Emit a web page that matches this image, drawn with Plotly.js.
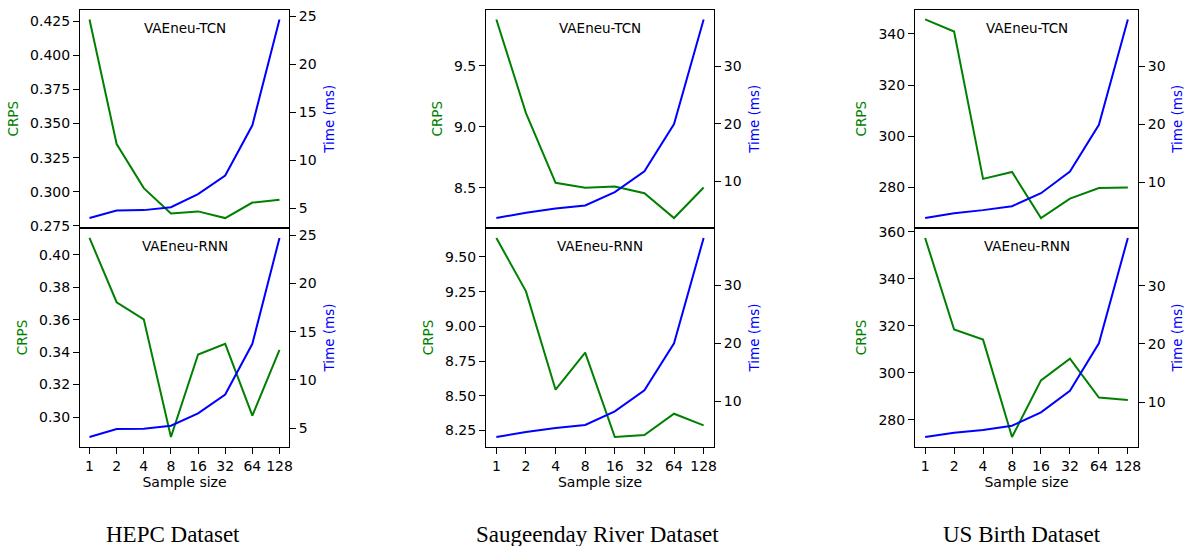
<!DOCTYPE html>
<html>
<head>
<meta charset="utf-8">
<script src="https://cdn.plot.ly/plotly-3.0.1.min.js"></script>
<style>html,body{margin:0;padding:0;background:#fff;}#chart{width:1185px;height:546px;}</style>
</head>
<body>
<div id="chart"></div>
<script>
const sampleSizes = ['1','2','4','8','16','32','64','128'];

const hepcTcnCrps = [0.4265,0.335,0.3026,0.2840,0.2855,0.2806,0.2920,0.2940];
const hepcTcnTime = [3.96,4.75,4.79,5.10,6.46,8.40,13.65,24.70];
const hepcRnnCrps = [0.4103,0.3707,0.3602,0.2877,0.3385,0.3451,0.3009,0.3414];
const hepcRnnTime = [4.07,4.90,4.94,5.25,6.52,8.49,13.75,24.73];

const saugTcnCrps = [9.88,9.112,8.541,8.500,8.511,8.456,8.252,8.502];
const saugTcnTime = [3.67,4.60,5.34,5.86,8.16,11.78,19.95,38.10];
const saugRnnCrps = [9.637,9.252,8.543,8.810,8.202,8.217,8.370,8.286];
const saugRnnTime = [3.86,4.72,5.41,5.93,8.28,11.90,20.00,38.17];

const usTcnCrps = [345.6,340.9,283.4,286.1,268.1,275.7,279.8,280.0];
const usTcnTime = [3.83,4.68,5.20,5.88,8.11,11.83,19.90,38.06];
const usRnnCrps = [357.4,318.4,314.1,272.6,296.75,306.0,289.4,288.4];
const usRnnTime = [4.00,4.74,5.20,5.94,8.23,11.94,20.10,38.20];

const modelLabels = ['VAEneu-TCN','VAEneu-RNN'];
const datasetTitles = ['HEPC Dataset','Saugeenday River Dataset','US Birth Dataset'];

const W = 1185, H = 546;
const colsPx = [[80,289],[486,714],[915,1138]];
const rowsPx = [[9.5,228],[228,447]];

const panels = [
  {crps: hepcTcnCrps, time: hepcTcnTime, col:0, row:0, cd:0.025, cf:'.3f', td:5},
  {crps: hepcRnnCrps, time: hepcRnnTime, col:0, row:1, cd:0.02, cf:'.2f', td:5},
  {crps: saugTcnCrps, time: saugTcnTime, col:1, row:0, cd:0.5, cf:'.1f', td:10},
  {crps: saugRnnCrps, time: saugRnnTime, col:1, row:1, cd:0.25, cf:'.2f', td:10},
  {crps: usTcnCrps, time: usTcnTime, col:2, row:0, cd:20, cf:'d', td:10},
  {crps: usRnnCrps, time: usRnnTime, col:2, row:1, cd:20, cf:'d', td:10}
];

function padRange(arr){
  const mn = Math.min(...arr), mx = Math.max(...arr);
  const p = (mx-mn)*0.05;
  return [mn-p, mx+p];
}

const font = {family:'DejaVu Sans', size:14, color:'#000'};
const traces = [];
const layout = {
  width: W, height: H,
  margin: {l:0, r:0, t:0, b:0},
  paper_bgcolor:'#fff', plot_bgcolor:'#fff',
  showlegend:false,
  font: font,
  annotations: []
};

panels.forEach((p,i)=>{
  const xi = i+1, yl = 2*i+1, yr = 2*i+2;
  const xs = xi===1?'':xi, yls = yl===1?'':yl, yrs = yr;
  traces.push({x: sampleSizes, y: p.crps, type:'scatter', mode:'lines',
    line:{color:'green', width:2}, xaxis:'x'+xs, yaxis:'y'+yls});
  traces.push({x: sampleSizes, y: p.time, type:'scatter', mode:'lines',
    line:{color:'blue', width:2}, xaxis:'x'+xs, yaxis:'y'+yrs});
  const cx = colsPx[p.col], ry = rowsPx[p.row];
  const bottom = p.row===1;
  layout['xaxis'+xs] = {
    domain:[cx[0]/W, cx[1]/W], anchor:'y'+yls, type:'category',
    range:[-0.35, 7.35], showgrid:false, zeroline:false,
    showline:true, mirror:true, linecolor:'#000', linewidth:1,
    ticks: bottom?'outside':'', ticklen:6, tickcolor:'#000', tickwidth:1,
    showticklabels: bottom, tickfont:{size:14},
    title: bottom ? {text:'Sample size', font:{size:14}, standoff:4} : {text:''}
  };
  layout['yaxis'+yls] = {
    domain:[1-ry[1]/H, 1-ry[0]/H], anchor:'x'+xs,
    range: padRange(p.crps), dtick:p.cd, tick0:0, tickformat:p.cf,
    showgrid:false, zeroline:false, showline:true, linecolor:'#000', linewidth:1,
    ticks:'outside', ticklen:6, tickcolor:'#000', tickfont:{size:14},
    title:{text:'CRPS', font:{size:13.5, color:'green'}, standoff:8}
  };
  layout['yaxis'+yrs] = {
    overlaying:'y'+yls, side:'right', anchor:'x'+xs,
    range: padRange(p.time), dtick:p.td, tick0:0,
    showgrid:false, zeroline:false, showline:true, linecolor:'#000', linewidth:1,
    ticks:'outside', ticklen:6, tickcolor:'#000', tickfont:{size:14},
    title:{text:'Time (ms)', font:{size:13.5, color:'blue'}, standoff:8}
  };
  layout.annotations.push({
    text: modelLabels[p.row], xref:'x'+xs+' domain', yref:'y'+yls+' domain',
    x:0.5, y:1, xanchor:'center', yanchor:'top', yshift:-8, showarrow:false,
    font:{family:'DejaVu Sans', size:13.5, color:'#000'}
  });
});

const titleCenters = [173, 597, 1022];
datasetTitles.forEach((t,j)=>{
  layout.annotations.push({
    text:t, xref:'paper', yref:'paper', x: titleCenters[j]/W, y: 1-534/H,
    xanchor:'center', yanchor:'middle', showarrow:false,
    font:{family:'Liberation Serif', size:23, color:'#000'}
  });
});

Plotly.newPlot('chart', traces, layout, {staticPlot:true, displayModeBar:false});
</script>
</body>
</html>
